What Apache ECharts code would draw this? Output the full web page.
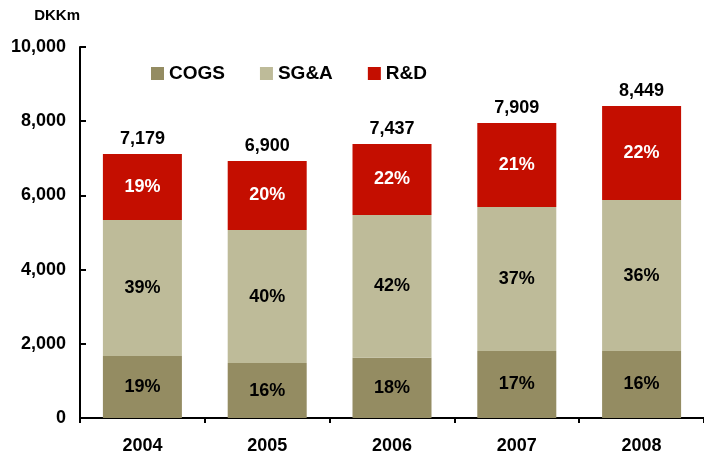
<!DOCTYPE html>
<html>
<head>
<meta charset="utf-8">
<script src="https://cdn.jsdelivr.net/npm/echarts@6/dist/echarts.min.js"></script>
<style>
  html, body { margin: 0; padding: 0; background: #fff; }
  #chart { width: 704px; height: 455px; }
</style>
</head>
<body>
<div id="chart"></div>
<script>
  // data (DKKm)
  var years = ['2004', '2005', '2006', '2007', '2008']
  var cogs = [1670, 1480, 1625, 1805, 1805]
  var sga = [3667, 3587, 3847, 3881, 4070]
  var rnd = [1779, 1860, 1913, 2264, 2534]
  var totals = ['7,179', '6,900', '7,437', '7,909', '8,449']
  var cogsPct = ['19%', '16%', '18%', '17%', '16%']
  var sgaPct = ['39%', '40%', '42%', '37%', '36%']
  var rndPct = ['19%', '20%', '22%', '21%', '22%']

  var font = 'Arial, "Liberation Sans", sans-serif'

  var chart = echarts.init(document.getElementById('chart'))
  var option = {
    animation: false,
    textStyle: { fontFamily: font },
    grid: { left: 80, right: -10, top: 47, bottom: 37 },
    legend: {
      data: ['COGS', 'SG&A', 'R&D'],
      left: 146,
      top: 59,
      itemWidth: 13,
      itemHeight: 13,
      itemGap: 35,
      icon: 'rect',
      textStyle: { fontFamily: font, fontSize: 19, fontWeight: 'bold', color: '#000' }
    },
    xAxis: {
      type: 'category',
      data: years,
      axisLine: { lineStyle: { color: '#000', width: 2 } },
      axisTick: { show: true, length: 5, lineStyle: { color: '#000', width: 2 } },
      axisLabel: { fontFamily: font, fontSize: 18, fontWeight: 'bold', color: '#000', margin: 19 }
    },
    yAxis: {
      type: 'value',
      min: 0,
      max: 10000,
      interval: 2000,
      name: 'DKKm',
      nameLocation: 'end',
      nameGap: 24,
      nameTextStyle: { fontFamily: font, fontSize: 15, fontWeight: 'bold', color: '#000', align: 'right', padding: [0, 0, 0, 0] },
      splitLine: { show: false },
      axisLine: { show: true, lineStyle: { color: '#000', width: 2 } },
      axisTick: { show: true, inside: true, length: 6, lineStyle: { color: '#000', width: 2 } },
      axisLabel: {
        fontFamily: font, fontSize: 18, fontWeight: 'bold', color: '#000', margin: 14,
        formatter: function (v) { return v.toLocaleString('en-US') }
      }
    },
    series: [{
      name: 'COGS',
      type: 'bar',
      stack: 'cost',
      barWidth: 79,
      itemStyle: { color: '#948C62' },
      data: cogs,
      label: {
        show: true, position: 'inside', fontSize: 18, fontWeight: 'bold', color: '#000',
        formatter: function (p) { return cogsPct[p.dataIndex] }
      }
    }, {
      name: 'SG&A',
      type: 'bar',
      stack: 'cost',
      itemStyle: { color: '#BEBB99' },
      data: sga,
      label: {
        show: true, position: 'inside', fontSize: 18, fontWeight: 'bold', color: '#000',
        formatter: function (p) { return sgaPct[p.dataIndex] }
      }
    }, {
      name: 'R&D',
      type: 'bar',
      stack: 'cost',
      itemStyle: { color: '#C40E00' },
      data: rnd,
      label: {
        show: true, position: 'inside', fontSize: 18, fontWeight: 'bold', color: '#fff',
        formatter: function (p) { return rndPct[p.dataIndex] }
      }
    }, {
      // totals shown above each bar
      name: 'total',
      type: 'bar',
      stack: 'cost',
      data: years.map(function () { return 0 }),
      itemStyle: { color: 'transparent' },
      label: {
        show: true, position: 'top', distance: 6, fontSize: 18, fontWeight: 'bold', color: '#000',
        formatter: function (p) { return totals[p.dataIndex] }
      }
    }]
  }
  chart.setOption(option)
</script>
</body>
</html>
